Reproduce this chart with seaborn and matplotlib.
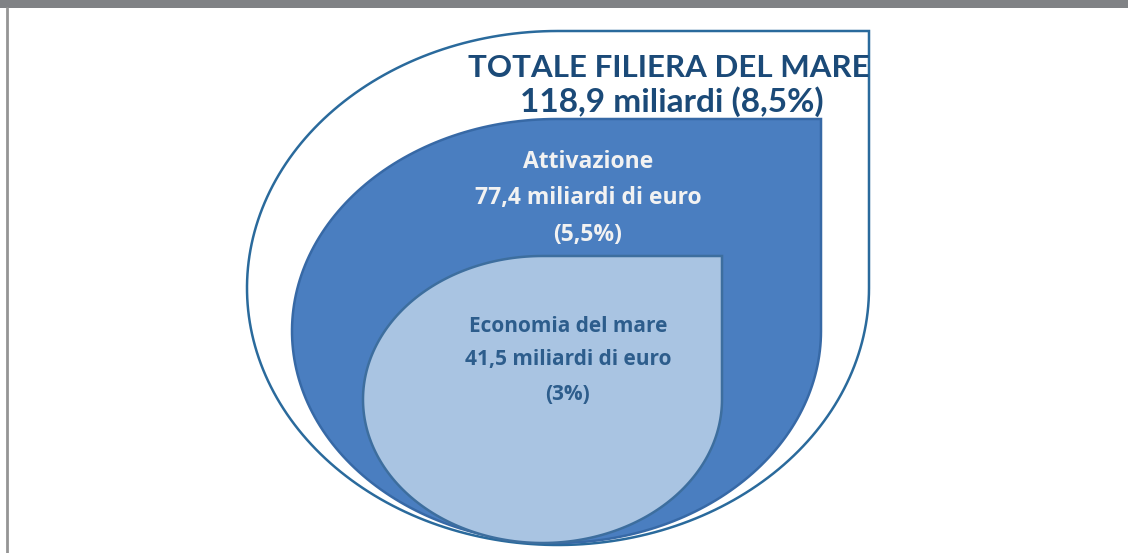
import numpy as np
import matplotlib
matplotlib.use("Agg")
import matplotlib.pyplot as plt
import seaborn as sns

# Data
layer_names = ["TOTALE FILIERA DEL MARE", "Attivazione", "Economia del mare"]
layer_values = [118.9, 77.4, 41.5]      # miliardi di euro
layer_shares = ["8,5%", "5,5%", "3%"]

# Layout of the nested teardrops (pixel box: left, top, right, bottom)
boxes = [(247, 31, 869, 545), (292, 119, 821, 543), (363, 256, 722, 543)]
fills = ["#ffffff", "#4a7ec0", "#a9c4e2"]
edges = ["#2a6a9c", "#3769a6", "#3d6e9e"]

sns.set_theme(style="white")
plt.rcParams["font.family"] = ["Lato", "DejaVu Sans"]


def teardrop(left, top, right, bottom, n=200):
    cx, cy = (left + right) / 2, (top + bottom) / 2
    a, b = (right - left) / 2, (bottom - top) / 2
    th = np.linspace(0, 1.5 * np.pi, n)
    xs = np.concatenate([[cx, right], cx + a * np.cos(th)])
    ys = np.concatenate([[top, top], cy + b * np.sin(th)])
    return xs, ys


def euro(v):
    return f"{v:.1f}".replace(".", ",")


fig = plt.figure(figsize=(11.28, 5.53), dpi=100)
ax = fig.add_axes([0, 0, 1, 1])
ax.set_xlim(0, 1128)
ax.set_ylim(553, 0)
ax.axis("off")

# frame: grey band at the top and grey rule on the left
ax.fill_between([0, 1128], 0, 8, color="#808285", lw=0)
ax.plot([7, 7], [8, 553], color="#959595", lw=2)

for box, fc, ec in zip(boxes, fills, edges):
    xs, ys = teardrop(*box)
    ax.fill(xs, ys, facecolor=fc, edgecolor=ec, lw=1.8, joinstyle="miter")

# labels
ax.text(669, 68, layer_names[0], ha="center", va="center",
        fontsize=22.5, fontweight="bold", color="#1b4a78")
ax.text(672, 102, f"{euro(layer_values[0])} miliardi ({layer_shares[0]})",
        ha="center", va="center", fontsize=24, fontweight="bold", color="#1b4a78")

mid_lines = [layer_names[1], euro(layer_values[1]) + " miliardi di euro",
             f"({layer_shares[1]})"]
for y, s in zip([162, 198, 235], mid_lines):
    ax.text(588, y, s, ha="center", va="center", fontsize=16.5,
            fontweight="bold", color="#f2f2f2", family=["Open Sans", "DejaVu Sans"])

in_lines = [layer_names[2], euro(layer_values[2]) + " miliardi di euro",
            f"({layer_shares[2]})"]
for y, s in zip([326, 359, 395], in_lines):
    ax.text(568, y, s, ha="center", va="center", fontsize=15,
            fontweight="bold", color="#2d5d8c", family=["Open Sans", "DejaVu Sans"])

fig.savefig("out.png", dpi=100)
